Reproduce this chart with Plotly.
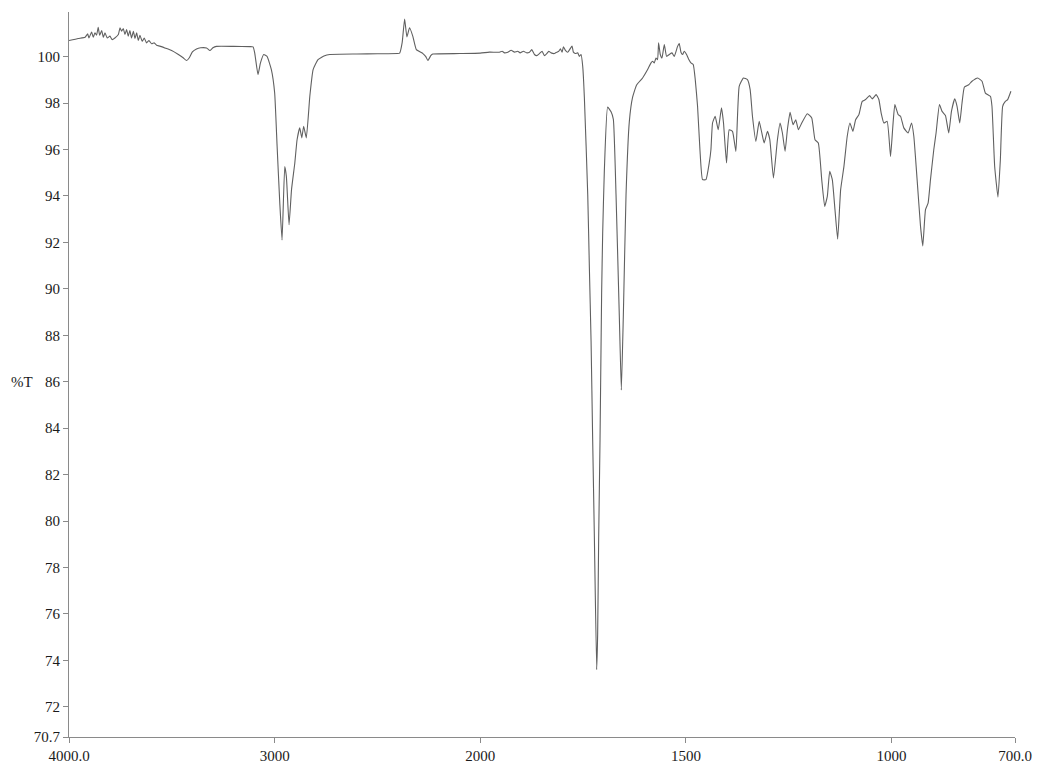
import plotly.graph_objects as go

# Wavenumber (cm-1) and transmittance (%T)
wavenumber = [
    4000, 3955, 3922, 3909, 3903, 3890, 3882, 3874, 3866, 3858, 3851, 3841, 3833, 3825,
    3814, 3801, 3790, 3777, 3760, 3752, 3744, 3736, 3728, 3720, 3712, 3704, 3696, 3687,
    3679, 3671, 3663, 3655, 3644, 3634, 3623, 3611, 3598, 3586, 3574, 3558, 3534, 3501,
    3470, 3445, 3428, 3415, 3400, 3380, 3360, 3331, 3315, 3300, 3283, 3200, 3120, 3105,
    3097, 3081, 3069, 3053, 3037, 3016, 3000, 2988, 2975, 2964, 2951, 2943, 2930, 2918,
    2902, 2891, 2878, 2868, 2859, 2846, 2829, 2813, 2789, 2757, 2732, 2600, 2500, 2402,
    2392, 2380, 2368, 2357, 2344, 2328, 2311, 2279, 2265, 2255, 2240, 2231, 2100, 2000,
    1978, 1953.4, 1946.9, 1941.2, 1933.1, 1925.0, 1916.9, 1908.9, 1903.2, 1895.1, 1887.0,
    1880.5, 1874.9, 1868.4, 1862.7, 1856.2, 1849.8, 1844.1, 1838.4, 1833.6, 1827.9, 1819.8,
    1814.2, 1809.3, 1805.2, 1801.2, 1797.9, 1793.1, 1787.4, 1781.8, 1776.9, 1773.7, 1768.8,
    1763.2, 1759.1, 1755.1, 1751.0, 1747.0, 1738.8, 1734.8, 1730.7, 1726.8, 1722.7, 1717.1,
    1714.7, 1712.2, 1708.9, 1705.0, 1702.5, 1698.4, 1690.4, 1682.1, 1676.5, 1670.0, 1662.0,
    1657.1, 1652.3, 1645.7, 1637.7, 1629.7, 1620.0, 1605.4, 1593.2, 1585.0, 1581.1, 1577.0,
    1572.9, 1569.0, 1566.5, 1562.4, 1558.3, 1552.7, 1547.1, 1540.6, 1534.0, 1528.4, 1520.4,
    1516.3, 1512.2, 1508.2, 1504.1, 1498.5, 1493.7, 1487.9, 1482.3, 1477.4, 1471.8, 1466.0,
    1459.7, 1451.4, 1443.4, 1439.3, 1435.4, 1428.9, 1421.6, 1413.6, 1408.7, 1401.4, 1394.9,
    1386.9, 1378.6, 1370.6, 1360.2, 1350.5, 1343.9, 1338.3, 1330.0, 1322.0, 1315.5, 1309.9,
    1301.9, 1296.1, 1287.3, 1277.6, 1271.1, 1265.5, 1259.0, 1253.4, 1246.9, 1239.6, 1233.0,
    1226.7, 1218.5, 1204.9, 1194.2, 1186.2, 1178.2, 1169.9, 1162.7, 1156.3, 1150.5, 1144.2,
    1137.7, 1131.2, 1123.9, 1115.9, 1107.9, 1101.3, 1094.1, 1087.5, 1079.5, 1071.5, 1063.3,
    1053.5, 1047.2, 1037.5, 1031.0, 1025.4, 1018.8, 1010.8, 1002.6, 997.0, 992.1, 984.1,
    978.3, 970.3, 959.8, 951.6, 946.0, 938.0, 929.7, 924.2, 917.6, 911.3, 905.5, 897.5,
    891.9, 883.7, 877.3, 869.1, 861.1, 854.5, 846.5, 840.9, 834.4, 828.8, 823.0, 812.5,
    804.5, 790.7, 780.2, 772.0, 759.8, 756.0, 749.4, 741.4, 735.6, 730.0, 723.5, 717.9,
    709.9,
]

transmittance = [
    100.69, 100.78, 100.83, 100.98, 100.80, 101.06, 100.83, 101.02, 100.92, 101.26, 100.92, 101.12, 100.83, 101.02,
    100.80, 100.88, 100.73, 100.80, 100.95, 101.24, 101.09, 101.21, 100.95, 101.16, 100.88, 101.12, 100.80, 101.09,
    100.78, 101.02, 100.69, 100.92, 100.66, 100.80, 100.59, 100.69, 100.55, 100.59, 100.49, 100.45, 100.37, 100.26,
    100.10, 99.95, 99.83, 99.95, 100.20, 100.33, 100.38, 100.37, 100.26, 100.38, 100.44, 100.44, 100.43, 100.42,
    100.16, 99.22, 99.73, 100.09, 100.01, 99.44, 98.44, 96.13, 93.69, 92.10, 95.27, 94.84, 92.76, 94.27,
    95.42, 96.42, 96.93, 96.50, 97.00, 96.50, 98.29, 99.44, 99.87, 100.04, 100.09, 100.11, 100.12, 100.13,
    100.15, 100.60, 101.62, 100.85, 101.24, 100.87, 100.30, 100.13, 100.00, 99.83, 100.05, 100.11, 100.13, 100.15,
    100.19, 100.19, 100.23, 100.16, 100.19, 100.27, 100.19, 100.23, 100.16, 100.23, 100.16,
    100.19, 100.30, 100.09, 100.04, 100.13, 100.23, 100.04, 100.13, 100.23, 100.16, 100.13,
    100.19, 100.23, 100.33, 100.19, 100.42, 100.27, 100.19, 100.33, 100.45, 100.19, 100.13,
    100.16, 100.01, 100.09, 99.58, 98.25, 94.05, 90.90, 87.74, 83.50, 79.33, 73.60,
    75.13, 79.30, 83.53, 89.84, 92.37, 95.10, 97.83, 97.62, 97.30, 94.05, 88.80,
    85.64, 88.80, 94.05, 97.20, 98.25, 98.78, 99.08, 99.44, 99.73, 99.80, 99.73,
    99.94, 99.87, 100.59, 100.09, 99.94, 100.52, 100.01, 100.09, 100.16, 100.01, 100.44,
    100.56, 100.19, 100.09, 100.23, 100.09, 99.90, 99.73, 99.66, 99.01, 97.86, 95.99,
    94.70, 94.70, 95.42, 95.99, 97.14, 97.43, 96.85, 97.79, 97.14, 95.42, 96.85,
    96.78, 95.92, 98.72, 99.08, 99.01, 98.58, 97.43, 96.35, 97.21, 96.71, 96.28,
    96.78, 96.42, 94.77, 96.42, 97.14, 96.71, 95.92, 96.85, 97.60, 97.07, 97.28,
    96.85, 97.14, 97.54, 97.36, 96.42, 96.28, 94.70, 93.55, 93.98, 95.06, 94.70,
    93.41, 92.14, 94.27, 95.27, 96.57, 97.14, 96.78, 97.28, 97.50, 98.07, 98.15,
    98.32, 98.18, 98.36, 98.15, 97.57, 97.14, 97.21, 95.70, 97.00, 97.93, 97.50,
    97.43, 96.93, 96.71, 97.14, 96.57, 94.70, 92.69, 91.85, 93.41, 93.69, 94.70, 95.99,
    96.71, 97.93, 97.64, 97.46, 96.71, 97.64, 98.18, 97.86, 97.14, 98.00, 98.69, 98.79,
    98.94, 99.08, 98.94, 98.43, 98.29, 97.86, 95.27, 93.95, 95.56, 97.86, 98.07, 98.15,
    98.51,
]

tick_wavenumbers = [4000, 3000, 2000, 1500, 1000, 700]
tick_x_labels = ["4000.0", "3000", "2000", "1500", "1000", "700.0"]
tick_y_values = [70.7, 72, 74, 76, 78, 80, 82, 84, 86, 88, 90, 92, 94, 96, 98, 100]
tick_y_labels = ["70.7", "72", "74", "76", "78", "80", "82", "84", "86", "88", "90",
                 "92", "94", "96", "98", "100"]


def axis_pos(wn):
    """Piecewise IR axis: 1000 cm-1 per unit above 2000, 500 cm-1 per unit below."""
    if wn >= 2000:
        return (4000 - wn) / 1000.0
    return 2.0 + (2000 - wn) / 500.0


xs = [axis_pos(w) for w in wavenumber]

fig = go.Figure()
fig.add_trace(go.Scatter(
    x=xs, y=transmittance, mode="lines",
    line=dict(color="#606060", width=1.1, shape="spline", smoothing=0.4),
    customdata=wavenumber,
    hovertemplate="%{customdata} cm-1<br>%{y} %T<extra></extra>",
    showlegend=False,
))

font = dict(family="Liberation Serif, Times New Roman, serif", size=15, color="#1a1a1a")

fig.update_layout(
    template="none",
    width=1055, height=767,
    margin=dict(l=69, r=40, t=12, b=30, pad=0),
    paper_bgcolor="white", plot_bgcolor="white",
    font=font,
    xaxis=dict(
        range=[0, axis_pos(700)],
        tickmode="array",
        tickvals=[axis_pos(w) for w in tick_wavenumbers],
        ticktext=tick_x_labels,
        showline=True, linecolor="#8a8a8a", linewidth=1,
        ticks="outside", ticklen=5, tickcolor="#8a8a8a", tickwidth=1,
        showgrid=False, zeroline=False, automargin=False,
        tickfont=font,
    ),
    yaxis=dict(
        range=[70.7, 101.92],
        tickmode="array",
        tickvals=tick_y_values,
        ticktext=tick_y_labels,
        showline=True, linecolor="#8a8a8a", linewidth=1,
        ticks="outside", ticklen=5, tickcolor="#8a8a8a", tickwidth=1,
        showgrid=False, zeroline=False, automargin=False,
        tickfont=font,
    ),
    annotations=[dict(
        text="%T", xref="paper", yref="y", x=-0.05, y=86,
        xanchor="center", yanchor="middle", showarrow=False, font=font,
    )],
)

fig.write_html(
    "out.html",
    config={"displayModeBar": False},
    post_script="document.body.style.margin='0';document.body.style.overflow='hidden';",
)
